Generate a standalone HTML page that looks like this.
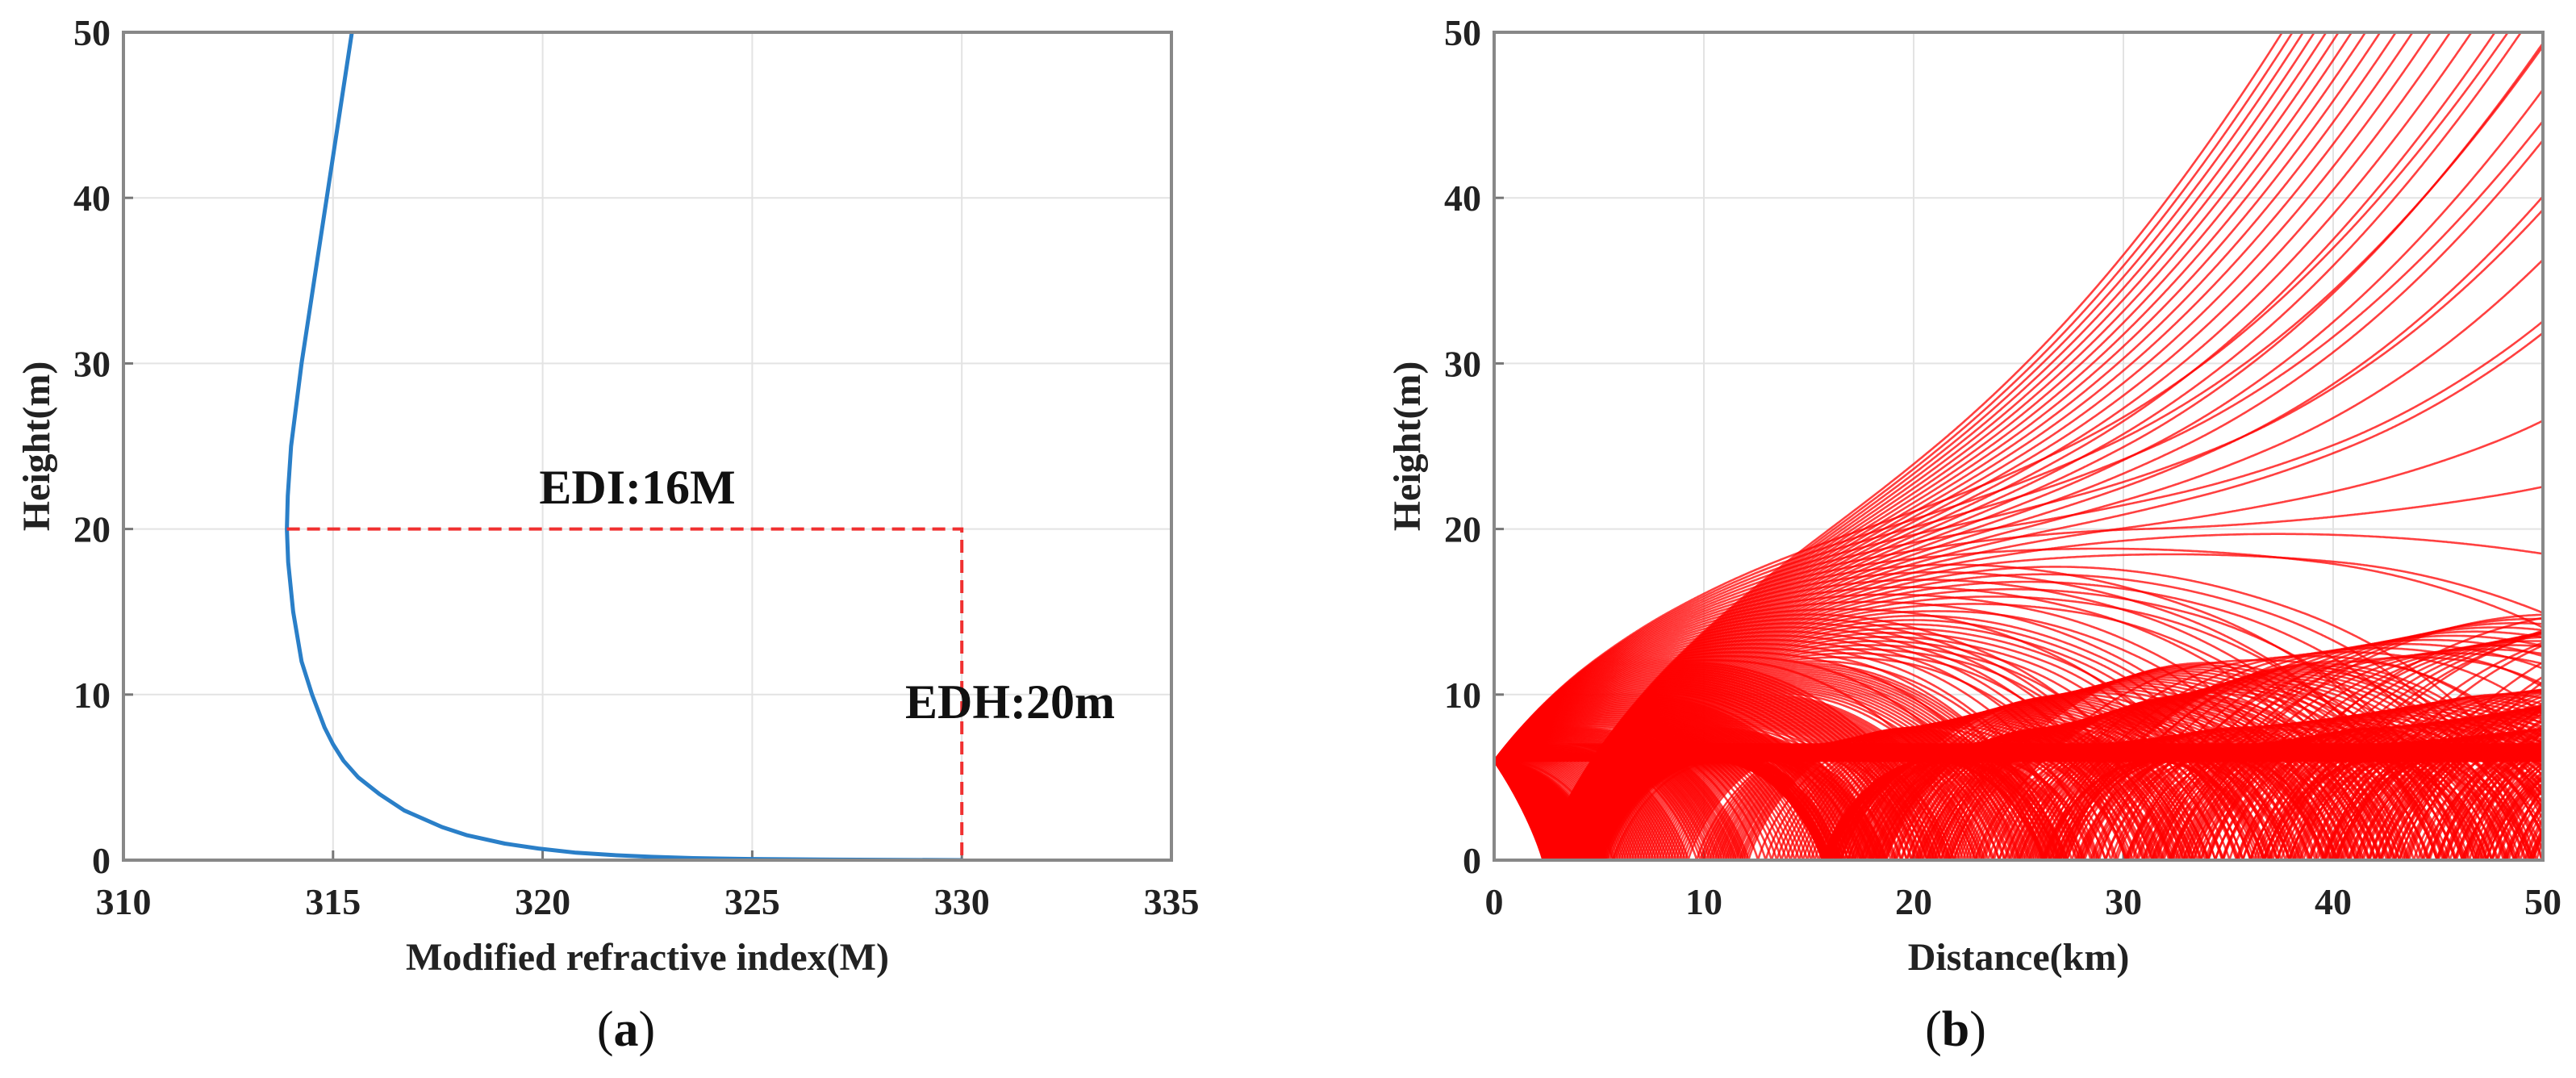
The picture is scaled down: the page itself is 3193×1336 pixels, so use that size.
<!DOCTYPE html>
<html><head><meta charset="utf-8">
<style>
html,body{margin:0;padding:0;background:#fff;}
svg{display:block;font-family:"Liberation Serif",serif;}
.tick{font-size:46px;font-weight:bold;fill:#222;}
.title{font-size:48px;font-weight:bold;fill:#222;}
</style></head>
<body>
<svg id="fig" width="3193" height="1336" viewBox="0 0 3193 1336" xmlns="http://www.w3.org/2000/svg">
<defs>
<clipPath id="clipB"><rect x="1852" y="40" width="1300" height="1026"/></clipPath>
<clipPath id="clipA"><rect x="153" y="40" width="1299" height="1026"/></clipPath>
</defs>
<g id="panelA"></g>
<g id="panelB"></g>
</svg>
<script>
// Panel (a) data: modified refractivity profile
const profileHeights = [0,0.03,0.07,0.12,0.2,0.3,0.45,0.7,1,1.5,2,3,4,5,6,7,8,10,12,15,18,20,22,25,30,35,40,45,50];
const profileM = [330,327,325,323.6,322.6,321.7,320.8,319.9,319.1,318.2,317.6,316.7,316.1,315.6,315.25,315.0,314.8,314.5,314.25,314.05,313.93,313.9,313.92,314.0,314.25,314.55,314.85,315.15,315.45];
const xTicksA = [310,315,320,325,330,335];
const yTicks = [0,10,20,30,40,50];
const ductHeight = 20;
const ductM = 313.9;
const surfaceM = 330;
// Panel (b) data
const xTicksB = [0,10,20,30,40,50];
const sourceHeight = 6;
const rayAngleMin = -0.0019;
const rayAngleMax = 0.0017;
const rayCount = 320;

const NS = "http://www.w3.org/2000/svg";
function mk(tag, attrs, parent){const e=document.createElementNS(NS,tag);for(const k in attrs)e.setAttribute(k,attrs[k]);parent.appendChild(e);return e;}

function drawAxes(g, L, R, T, B, xt, fx, yt, fy, xTitle, label, labX){
  const grid = mk('g',{},g);
  
  
  xt.forEach(v=>{const x=fx(v);mk('line',{x1:x,x2:x,y1:T,y2:B,stroke:'#e3e3e3','stroke-width':2},grid);});
  yt.forEach(v=>{const y=fy(v);mk('line',{x1:L,x2:R,y1:y,y2:y,stroke:'#e3e3e3','stroke-width':2},grid);});
  xt.forEach(v=>{const x=fx(v);
    const t=mk('text',{x:x,y:B+67,'text-anchor':'middle',class:'tick'},g);t.textContent=v;
    
    
    mk('line',{x1:x,x2:x,y1:B,y2:B-12,stroke:'#777','stroke-width':3},g);});
  yt.forEach(v=>{const y=fy(v);
    const t=mk('text',{x:L-16,y:y+16,'text-anchor':'end',class:'tick'},g);t.textContent=v;
    
    
    mk('line',{x1:L,x2:L+12,y1:y,y2:y,stroke:'#777','stroke-width':3},g);});
  const yt2=mk('text',{x:0,y:0,'text-anchor':'middle',class:'title',transform:`translate(${L-92},${(T+B)/2}) rotate(-90)`},g);
  yt2.textContent='Height(m)';
  
  
  const xt2=mk('text',{x:(L+R)/2,y:B+136,'text-anchor':'middle',class:'title'},g);
  xt2.textContent=xTitle;
  
  
  const lb=mk('text',{x:labX,y:1296,'text-anchor':'middle','font-size':'62px',fill:'#111'},g);
  lb.innerHTML='(<tspan font-weight="bold">'+label+'</tspan>)';
  
  
}
function drawBox(g,L,R,T,B){
  const b=mk('rect',{x:L,y:T,width:R-L,height:B-T,fill:'none',stroke:'#888','stroke-width':4},g);
  
  
}

// ---- Panel A ----
(function(){
  const g=document.getElementById('panelA');
  const L=153,R=1452,T=40,B=1066;
  const fx=m=>L+(m-310)/25*(R-L), fy=h=>B-h/50*(B-T);
  drawAxes(g,L,R,T,B,xTicksA,fx,yTicks,fy,'Modified refractive index(M)','a',776);
  const d=profileHeights.map((h,i)=>(i?'L':'M')+fx(profileM[i]).toFixed(1)+','+fy(h).toFixed(1)).join(' ');
  const p=mk('path',{d:d,fill:'none',stroke:'#2a7fc8','stroke-width':5,'stroke-linejoin':'round','clip-path':'url(#clipA)'},g);
  
  
  const dh=mk('path',{d:`M${fx(ductM)},${fy(ductHeight)} L${fx(surfaceM)},${fy(ductHeight)} L${fx(surfaceM)},${fy(0)}`,fill:'none',stroke:'#f03030','stroke-width':4,'stroke-dasharray':'16 9'},g);
  
  
  const e1=mk('text',{x:790,y:624,'text-anchor':'middle','font-size':'60px','font-weight':'bold',fill:'#111'},g);
  e1.textContent='EDI:16M';
  
  
  const e2=mk('text',{x:1252,y:890,'text-anchor':'middle','font-size':'60px','font-weight':'bold',fill:'#111'},g);
  e2.textContent='EDH:20m';
  
  
  drawBox(g,L,R,T,B);
})();

// ---- Panel B ----
(function(){
  const g=document.getElementById('panelB');
  const L=1852,R=3152,T=40,B=1066;
  const fx=d=>L+d/50*(R-L), fy=h=>B-h/50*(B-T);
  drawAxes(g,L,R,T,B,xTicksB,fx,yTicks,fy,'Distance(km)','b',2424);
  function Mof(h){
    if(h<=profileHeights[0])return profileM[0];
    for(let i=1;i<profileHeights.length;i++){if(h<=profileHeights[i]){const t=(h-profileHeights[i-1])/(profileHeights[i]-profileHeights[i-1]);return profileM[i-1]+t*(profileM[i]-profileM[i-1]);}}
    const n=profileHeights.length;return profileM[n-1]+(h-profileHeights[n-1])*(profileM[n-1]-profileM[n-2])/(profileHeights[n-1]-profileHeights[n-2]);
  }
  const rays=mk('g',{'clip-path':'url(#clipB)'},g);
  
  
  const dx=10, steps=5000, M0=Mof(sourceHeight);
  for(let r=0;r<rayCount;r++){
    const a0=rayAngleMin+(rayAngleMax-rayAngleMin)*r/(rayCount-1);
    let h=sourceHeight, s=a0>=0?1:-1;
    const E=a0*a0/2-M0*1e-6;
    let pts=[[fx(0),fy(h)]];
    let th=a0;
    for(let k=1;k<=steps;k++){
      h+=th*dx;
      if(h<0){h=-h;s=1;}
      let q=2*(E+Mof(h)*1e-6);
      if(q<=0){s=-s;q=0;}
      th=s*Math.sqrt(q);
      if(q===0) th=s*1e-6;
      if(k%5===0) pts.push([fx(k*dx/1000),fy(h)]);
      if(h>52)break;
    }
    const p=mk('path',{d:pts.map((p,i)=>(i?'L':'M')+p[0].toFixed(1)+','+p[1].toFixed(1)).join(''),fill:'none',stroke:'#ff0000','stroke-width':2.6,'stroke-opacity':0.75},rays);
    
    
  }
  drawBox(g,L,R,T,B);
})();
</script>
</body></html>
